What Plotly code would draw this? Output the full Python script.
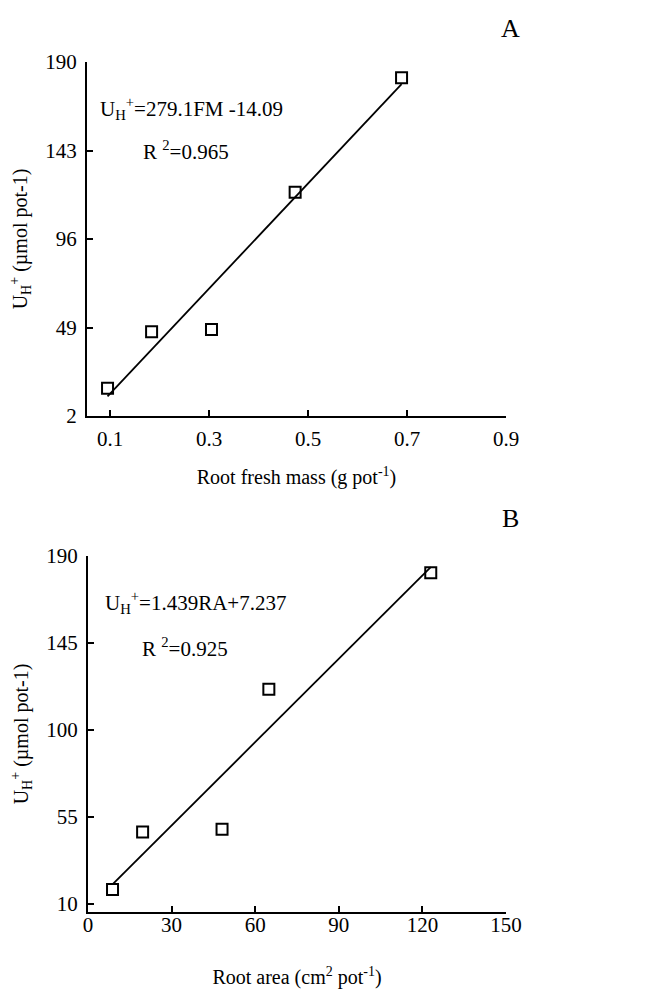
import plotly.graph_objects as go

# Panel A data
fresh_mass = [0.095, 0.184, 0.305, 0.474, 0.689]
uptake_a = [16.7, 46.8, 48.0, 120.8, 181.7]
fit_a = [279.1, -14.09]  # slope, intercept
xticks_a = [0.1, 0.3, 0.5, 0.7, 0.9]
yticks_a = [2, 49, 96, 143, 190]

# Panel B data
root_area = [8.8, 19.6, 48.1, 64.9, 123.0]
uptake_b = [17.3, 47.1, 48.4, 121.0, 181.3]
fit_b = [1.439, 7.237]
xticks_b = [0, 30, 60, 90, 120, 150]
yticks_b = [10, 55, 100, 145, 190]

FONT = "Liberation Serif"
W, H = 645, 997

def fx(px):
    return px / W

def fy(py):
    return 1 - py / H

fig = go.Figure()

def add_panel(xs, ys, fit, xa, ya):
    fig.add_trace(go.Scatter(
        x=xs, y=ys, mode="markers", xaxis=xa, yaxis=ya,
        marker=dict(symbol="square-open", size=11, color="black",
                    line=dict(width=2, color="black")),
        showlegend=False, hoverinfo="x+y"))
    lx = [min(xs), max(xs)]
    ly = [fit[0] * v + fit[1] for v in lx]
    fig.add_trace(go.Scatter(
        x=lx, y=ly, mode="lines", xaxis=xa, yaxis=ya,
        line=dict(color="black", width=1.8), showlegend=False, hoverinfo="skip"))

add_panel(fresh_mass, uptake_a, fit_a, "x", "y")
add_panel(root_area, uptake_b, fit_b, "x2", "y2")

axis_common = dict(showline=True, linecolor="black", linewidth=2, ticks="inside",
                   ticklen=6, tickwidth=1.5, tickcolor="black", showgrid=False,
                   zeroline=False, tickfont=dict(family=FONT, size=21, color="black"),
                   automargin=False)

fig.update_layout(
    width=W, height=H,
    margin=dict(l=0, r=0, t=0, b=0),
    paper_bgcolor="white", plot_bgcolor="white",
    font=dict(family=FONT, color="black", size=20),
    xaxis=dict(axis_common, domain=[fx(87), fx(506)], range=[0.0535, 0.9],
               tickvals=xticks_a, ticktext=[f"{v:.1f}" for v in xticks_a],
               anchor="y", ticklabelstandoff=3,
               title=dict(text="Root fresh mass (g pot<sup>-1</sup>)",
                          font=dict(family=FONT, size=20), standoff=20)),
    yaxis=dict(axis_common, domain=[fy(416), fy(62)], range=[2, 190],
               tickvals=yticks_a, ticktext=[str(v) for v in yticks_a],
               anchor="x", ticklabelstandoff=4,
               title=dict(text="U<sub>H</sub><sup>+</sup> (µmol pot-1)",
                          font=dict(family=FONT, size=20), standoff=12)),
    xaxis2=dict(axis_common, domain=[fx(88), fx(506)], range=[0, 150],
                tickvals=xticks_b, ticktext=[str(v) for v in xticks_b],
                anchor="y2", ticklabelstandoff=-7,
                title=dict(text="Root area (cm<sup>2</sup> pot<sup>-1</sup>)",
                           font=dict(family=FONT, size=20), standoff=34)),
    yaxis2=dict(axis_common, domain=[fy(912), fy(556)], range=[5.6, 190],
                tickvals=yticks_b, ticktext=[str(v) for v in yticks_b],
                anchor="x2", ticklabelstandoff=4,
                title=dict(text="U<sub>H</sub><sup>+</sup> (µmol pot-1)",
                           font=dict(family=FONT, size=20), standoff=12)),
)

ann_font = dict(family=FONT, size=21, color="black")
annotations = [
    dict(text="U<sub>H</sub><sup>+</sup>=279.1FM -14.09", x=fx(98), y=fy(108)),
    dict(text="R <sup>2</sup>=0.965", x=fx(141), y=fy(151)),
    dict(text="U<sub>H</sub><sup>+</sup>=1.439RA+7.237", x=fx(103), y=fy(602)),
    dict(text="R <sup>2</sup>=0.925", x=fx(140), y=fy(647)),
]
for a in annotations:
    fig.add_annotation(xref="paper", yref="paper", xanchor="left", yanchor="middle",
                       showarrow=False, font=ann_font, **a)

for lab, py in [("A", 28), ("B", 518)]:
    fig.add_annotation(text=lab, xref="paper", yref="paper", x=fx(510), y=fy(py),
                       xanchor="center", yanchor="middle", showarrow=False,
                       font=dict(family=FONT, size=26, color="black"))

fig.write_html("out.html", config={"displayModeBar": False},
               post_script="document.body.style.margin='0';")
